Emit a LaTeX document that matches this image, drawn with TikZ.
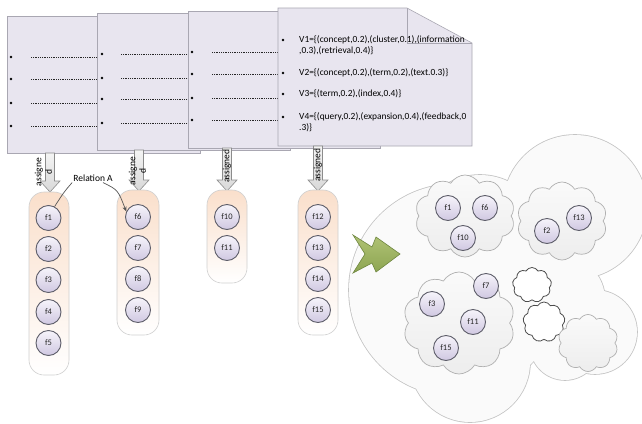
\documentclass[tikz,border=0pt]{standalone}
\usepackage{fontspec}
\setmainfont{Carlito}
\usetikzlibrary{shapes.symbols,arrows.meta}
\definecolor{pagefill}{HTML}{E8E5EF}
\definecolor{pageline}{HTML}{A9A7B2}
\definecolor{fline}{HTML}{5E5E6A}
\definecolor{ftop}{HTML}{F6F4FA}
\definecolor{fbot}{HTML}{D0C8E2}
\definecolor{conttop}{HTML}{FADFCB}
\definecolor{contline}{HTML}{CFCFCF}
\definecolor{arrowline}{HTML}{8C8C8C}
\definecolor{arrowtop}{HTML}{F4F4F4}
\definecolor{arrowbot}{HTML}{D8D8D8}
\definecolor{greentop}{HTML}{AFC274}
\definecolor{greenbot}{HTML}{8DA552}
\definecolor{greenline}{HTML}{6F8740}
\definecolor{cloudline}{HTML}{C4C4C4}
\definecolor{cloudfill}{HTML}{FAFAFA}
\definecolor{innertop}{HTML}{FAFAFA}
\definecolor{innerbot}{HTML}{EDEDED}
\definecolor{relline}{HTML}{555555}
\newcommand{\assignarrow}[3]{%
  \path[draw=arrowline, line width=0.6pt, top color=arrowtop, bottom color=arrowbot]
    (#1-4.5,#2) -- (#1+4.5,#2) -- (#1+4.5,#3-11) -- (#1+10,#3-11) -- (#1,#3)
    -- (#1-10,#3-11) -- (#1-4.5,#3-11) -- cycle;}
\tikzset{
  pagebox/.style={draw=pageline, fill=pagefill, line width=0.6pt},
  dotline/.style={draw=black!85, line width=0.7pt, dash pattern=on 0.7pt off 1.1pt},
  cont/.style={rectangle, rounded corners=15pt, draw=contline, line width=0.6pt,
     top color=conttop, bottom color=white, inner sep=0pt},
  fcirc/.style={circle, minimum size=25pt, inner sep=0pt, draw=fline, line width=0.9pt,
     top color=ftop, bottom color=fbot, font=\fontsize{8.5}{9}\selectfont, text=black!85},
  asgtext/.style={rotate=90, font=\fontsize{9.5}{10.5}\selectfont, align=center, inner sep=0pt},
  vtext/.style={anchor=west, align=left, inner sep=0pt, font=\fontsize{9.4}{11}\selectfont},
  innercloud/.style={cloud, cloud puffs=10, cloud puff arc=120, draw=cloudline!90!black,
     top color=innertop, bottom color=innerbot, line width=0.7pt, inner sep=0pt},
  smallcloud/.style={cloud, cloud puffs=9, cloud puff arc=120, draw=black!70,
     fill=white, line width=0.8pt, inner sep=0pt},
  relarrow/.style={draw=relline, line width=0.7pt}
}
\begin{document}
\begin{tikzpicture}[x=1pt,y=-1pt]
\useasboundingbox (0,0) rectangle (642,423);
\fill[white] (0,0) rectangle (642,423);

% ---- page 1
\draw[pagebox] (7,16) rectangle (200,153);
\foreach \yy in {57,79,103,126}{
  \fill[black] (11,\yy) circle (1.3pt);
  \draw[dotline] (31,\yy) -- (120,\yy);}
% ---- page 2
\draw[pagebox] (97,13) rectangle (290,150);
\foreach \yy in {54,78,99,123}{
  \fill[black] (102,\yy) circle (1.3pt);
  \draw[dotline] (121,\yy) -- (210,\yy);}
% ---- page 3
\draw[pagebox] (188,11) rectangle (380,148);
\foreach \yy in {52,74,98,120}{
  \fill[black] (192,\yy) circle (1.3pt);
  \draw[dotline] (212,\yy) -- (300,\yy);}
% ---- page 4 (folded corner)
\draw[pagebox] (278,8) -- (407,8) -- (472,43) -- (472,146) -- (278,146) -- cycle;
\draw[pageline, line width=0.6pt] (407,8) -- (407,43) -- (472,43);
\foreach \yy in {40,73,94,117}{\fill[black] (283,\yy) circle (1.3pt);}
\node[vtext] (v1) at (299,45.5) {V1=\{(concept,0.2),(cluster,0.1),(information\\,0.3),(retrieval,0.4)\}};
\node[vtext] (v2) at (299,73) {V2=\{(concept,0.2),(term,0.2),(text.0.3)\}};
\node[vtext] (v3) at (299,94) {V3=\{(term,0.2),(index,0.4)\}};
\node[vtext] (v4) at (299,122.5) {V4=\{(query,0.2),(expansion,0.4),(feedback,0\\.3)\}};

% ---- assign arrows
\assignarrow{50}{153}{192}
\assignarrow{139}{150}{191}
\assignarrow{227}{148}{191}
\assignarrow{318}{146}{191}
\node[asgtext] (a1) at (43.5,172) {assigne\\d};
\node[asgtext] (a2) at (137.5,171) {assigne\\d};
\node[asgtext] (a3) at (227,166) {assigned};
\node[asgtext] (a4) at (318,165) {assigned};

% ---- containers
\node[cont, minimum width=40pt, minimum height=183pt] (c1) at (49,283.5) {};
\node[cont, minimum width=42pt, minimum height=145pt] (c2) at (138,262.5) {};
\node[cont, minimum width=40pt, minimum height=93pt] (c3) at (227,236.5) {};
\node[cont, minimum width=40pt, minimum height=145pt] (c4) at (318,262.5) {};

\node[fcirc] (l1) at (48.5,218) {f1};
\node[fcirc] (l2) at (48.5,249) {f2};
\node[fcirc] (l3) at (48.5,280) {f3};
\node[fcirc] (l4) at (48.5,312) {f4};
\node[fcirc] (l5) at (48.5,343) {f5};
\node[fcirc] (l6) at (138,217) {f6};
\node[fcirc] (l7) at (138,248) {f7};
\node[fcirc] (l8) at (138,279) {f8};
\node[fcirc] (l9) at (138,310) {f9};
\node[fcirc] (l10) at (227,217) {f10};
\node[fcirc] (l11) at (227,248) {f11};
\node[fcirc] (l12) at (318,217) {f12};
\node[fcirc] (l13) at (318,248) {f13};
\node[fcirc] (l14) at (318,279) {f14};
\node[fcirc] (l15) at (318,310) {f15};

% ---- Relation A
\node[font=\fontsize{9.5}{10}\selectfont, inner sep=1pt] (rel) at (93,178) {Relation A};
\draw[relarrow] (rel.south west) .. controls (64,192) .. (l1.62);
\draw[relarrow, -{Stealth[length=5pt,width=4pt]}] ([xshift=10pt]rel.south) .. controls (118,190) .. (l6.155);

% ---- big cloud (union of lobes)
\foreach \cx/\cy/\r in {455/290/106, 480/240/65, 575/207/72, 560/300/45, 595/332/42, 470/362/60, 565/345/35, 510/300/60}{
  \draw[cloudline, line width=1.6pt] (\cx,\cy) circle (\r pt);}
\foreach \cx/\cy/\r in {455/290/106, 480/240/65, 575/207/72, 560/300/45, 595/332/42, 470/362/60, 565/345/35, 510/300/60}{
  \fill[cloudfill] (\cx,\cy) circle (\r pt);}

% ---- green arrow
\path[draw=greenline, line width=0.6pt, top color=greentop, bottom color=greenbot]
  (353,235) -- (372,247) -- (376,237) -- (400,254) -- (376,272) -- (372,263) -- (353,273) -- (365,254) -- cycle;

% ---- inner clouds
\node[innercloud, minimum width=100pt, minimum height=82pt] (ca) at (465,216) {};
\node[innercloud, minimum width=90pt, minimum height=78pt] (cb) at (562,221) {};
\node[innercloud, minimum width=112pt, minimum height=102pt] (cc) at (459,323) {};
\node[smallcloud, minimum width=39pt, minimum height=35pt] (cd) at (532,285) {};
\node[smallcloud, minimum width=42pt, minimum height=40pt] (ce) at (544,322) {};
\node[innercloud, minimum width=60pt, minimum height=57pt] (cf) at (588,343) {};

\node[fcirc] (g1) at (448,208) {f1};
\node[fcirc] (g6) at (485,208) {f6};
\node[fcirc] (g10) at (463,238) {f10};
\node[fcirc] (g2) at (547,231) {f2};
\node[fcirc] (g13) at (579,218) {f13};
\node[fcirc] (g7) at (486,286) {f7};
\node[fcirc] (g3) at (432,304) {f3};
\node[fcirc] (g11) at (473,322) {f11};
\node[fcirc] (g15) at (446,348) {f15};
\end{tikzpicture}
\end{document}
